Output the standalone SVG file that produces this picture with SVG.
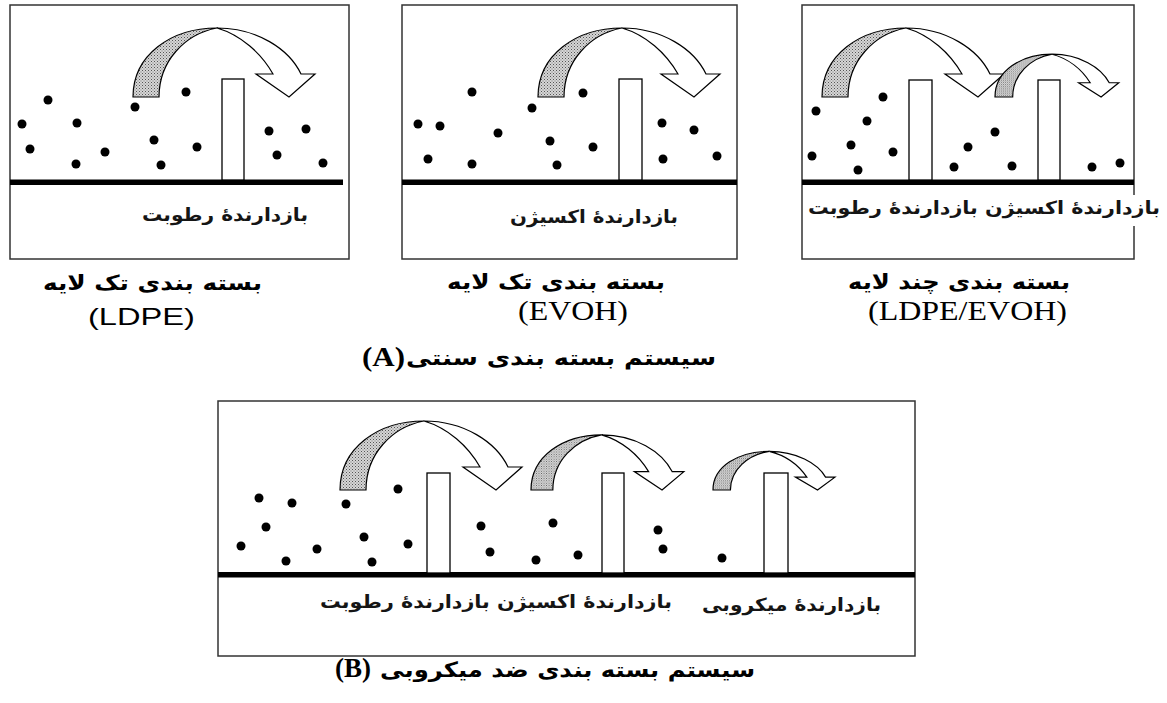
<svg xmlns="http://www.w3.org/2000/svg" xmlns:xlink="http://www.w3.org/1999/xlink" width="1167" height="703" viewBox="0 0 1167 703">
<style>
.box{fill:#fff;stroke:#333;stroke-width:1.5}
.bar{fill:#000}
.pillar{fill:#fff;stroke:#000;stroke-width:1.3}
.dot{fill:#000}
.shade{fill:url(#stipple);stroke:#000;stroke-width:1.2}
.white{fill:#fff;stroke:#000;stroke-width:1.2}
.lbl{font-family:"DejaVu Sans",sans-serif;font-size:18px;fill:#151515;font-weight:bold}
.cap{font-family:"DejaVu Sans",sans-serif;font-size:21px;fill:#000;font-weight:bold}
.lat{font-family:"Liberation Serif",serif;font-size:27px;fill:#000}
.latS{font-family:"Liberation Sans",sans-serif;font-size:24px;fill:#000}
</style>
<defs>
<pattern id="stipple" width="3" height="3" patternUnits="userSpaceOnUse">
<rect width="3" height="3" fill="#d6d6d6"/>
<rect x="0" y="0" width="1" height="1" fill="#555"/>
<rect x="1.5" y="1.5" width="1" height="1" fill="#777"/>
</pattern>
<g id="arrow">
<path class="shade" vector-effect="non-scaling-stroke" d="M0,0 C0,-42 38,-69 84,-69 C52,-63 26,-36 26,0 Z"/>
<path class="white" vector-effect="non-scaling-stroke" d="M84,-69 C124,-69 156,-48 168,-23 L182,-23 L156,0 L123,-23 L140,-23 C128,-44 108,-62 84,-69 Z"/>
</g>
</defs>
<rect width="1167" height="703" fill="#fff"/>

<g id="panel1">
<rect class="box" x="10" y="5" width="339" height="254"/>
<rect class="bar" x="10" y="179.5" width="333" height="5.5"/>
<rect class="pillar" x="222" y="79" width="22" height="101"/>
<use xlink:href="#arrow" transform="translate(133,97)"/>
<g class="dot">
<circle cx="48" cy="100" r="4.5"/><circle cx="22" cy="124" r="4.5"/><circle cx="77" cy="123" r="4.5"/>
<circle cx="30" cy="149" r="4.5"/><circle cx="105" cy="152" r="4.5"/><circle cx="76" cy="164" r="4.5"/>
<circle cx="135" cy="107" r="4.5"/><circle cx="186" cy="92" r="4.5"/><circle cx="154" cy="140" r="4.5"/>
<circle cx="197" cy="147" r="4.5"/><circle cx="161" cy="165" r="4.5"/><circle cx="269" cy="131" r="4.5"/>
<circle cx="306" cy="129" r="4.5"/><circle cx="277" cy="155" r="4.5"/><circle cx="323" cy="163" r="4.5"/>
</g>
<text class="lbl" x="308" y="221" text-anchor="end" textLength="166" lengthAdjust="spacingAndGlyphs">بازدارندۀ رطوبت</text>
</g>

<g id="panel2">
<rect class="box" x="402" y="5" width="335" height="254"/>
<rect class="bar" x="402" y="179.5" width="335" height="5.5"/>
<rect class="pillar" x="619" y="79" width="23" height="101"/>
<use xlink:href="#arrow" transform="translate(538,97)"/>
<g class="dot">
<circle cx="472" cy="92" r="4.5"/><circle cx="532" cy="108" r="4.5"/><circle cx="583" cy="93" r="4.5"/>
<circle cx="418" cy="124" r="4.5"/><circle cx="440" cy="126" r="4.5"/><circle cx="498" cy="133" r="4.5"/>
<circle cx="550" cy="141" r="4.5"/><circle cx="593" cy="147" r="4.5"/><circle cx="428" cy="159" r="4.5"/>
<circle cx="472" cy="164" r="4.5"/><circle cx="557" cy="165" r="4.5"/><circle cx="662" cy="123" r="4.5"/>
<circle cx="694" cy="130" r="4.5"/><circle cx="663" cy="159" r="4.5"/><circle cx="717" cy="156" r="4.5"/>
</g>
<text class="lbl" x="678" y="223" text-anchor="end" textLength="168" lengthAdjust="spacingAndGlyphs">بازدارندۀ اکسیژن</text>
</g>

<g id="panel3">
<rect class="box" x="802" y="5" width="332" height="254"/>
<rect class="bar" x="802" y="179.5" width="332" height="5.5"/>
<rect class="pillar" x="909" y="80" width="23" height="100"/>
<rect class="pillar" x="1038" y="80" width="22" height="100"/>
<use xlink:href="#arrow" transform="translate(822,97)"/>
<use xlink:href="#arrow" transform="translate(995,97) scale(0.68,0.62)"/>
<g class="dot">
<circle cx="883" cy="97" r="4.5"/><circle cx="816" cy="111" r="4.5"/><circle cx="867" cy="121" r="4.5"/>
<circle cx="851" cy="145" r="4.5"/><circle cx="812" cy="156" r="4.5"/><circle cx="893" cy="152" r="4.5"/>
<circle cx="858" cy="170" r="4.5"/><circle cx="995" cy="132" r="4.5"/><circle cx="968" cy="147" r="4.5"/>
<circle cx="954" cy="167" r="4.5"/><circle cx="1012" cy="166" r="4.5"/><circle cx="1092" cy="167" r="4.5"/>
<circle cx="1120" cy="163" r="4.5"/>
</g>
<rect x="1100" y="195" width="62" height="31" fill="#fff"/>
<text class="lbl" x="1160" y="214" text-anchor="end" textLength="352" lengthAdjust="spacingAndGlyphs">بازدارندۀ اکسیژن  بازدارندۀ رطوبت</text>
</g>

<g id="captionsA">
<text class="cap" x="262" y="290" text-anchor="end" textLength="219" lengthAdjust="spacingAndGlyphs">بسته بندی تک لایه</text>
<text class="latS" x="88" y="325" textLength="107" lengthAdjust="spacingAndGlyphs">(LDPE)</text>
<text class="cap" x="665" y="289" text-anchor="end" textLength="218" lengthAdjust="spacingAndGlyphs">بسته بندی تک لایه</text>
<text class="lat" x="518" y="320" textLength="110" lengthAdjust="spacingAndGlyphs">(EVOH)</text>
<text class="cap" x="1070" y="289" text-anchor="end" textLength="222" lengthAdjust="spacingAndGlyphs">بسته بندی چند لایه</text>
<text class="lat" x="868" y="320" textLength="199" lengthAdjust="spacingAndGlyphs">(LDPE/EVOH)</text>
<text class="cap" x="716" y="365" text-anchor="end" font-size="23" textLength="310" lengthAdjust="spacingAndGlyphs">سیستم بسته بندی سنتی</text>
<text class="lat" x="362" y="366" font-weight="bold" font-size="24" textLength="43" lengthAdjust="spacingAndGlyphs">(A)</text>
</g>

<g id="panelB">
<rect class="box" x="218" y="401" width="697" height="255"/>
<rect class="bar" x="218" y="572" width="697" height="5.5"/>
<rect class="pillar" x="427" y="473" width="23" height="100"/>
<rect class="pillar" x="602" y="473" width="22" height="100"/>
<rect class="pillar" x="764" y="473" width="24" height="100"/>
<use xlink:href="#arrow" transform="translate(340,490)"/>
<use xlink:href="#arrow" transform="translate(531,490) scale(0.84,0.8)"/>
<use xlink:href="#arrow" transform="translate(713,490) scale(0.67,0.56)"/>
<g class="dot">
<circle cx="259" cy="498" r="4.5"/><circle cx="292" cy="503" r="4.5"/><circle cx="346" cy="504" r="4.5"/>
<circle cx="398" cy="489" r="4.5"/><circle cx="266" cy="527" r="4.5"/><circle cx="364" cy="537" r="4.5"/>
<circle cx="241" cy="546" r="4.5"/><circle cx="317" cy="549" r="4.5"/><circle cx="408" cy="544" r="4.5"/>
<circle cx="286" cy="561" r="4.5"/><circle cx="372" cy="562" r="4.5"/><circle cx="481" cy="526" r="4.5"/>
<circle cx="553" cy="523" r="4.5"/><circle cx="490" cy="552" r="4.5"/><circle cx="536" cy="560" r="4.5"/>
<circle cx="578" cy="555" r="4.5"/><circle cx="658" cy="530" r="4.5"/><circle cx="663" cy="549" r="4.5"/>
<circle cx="722" cy="558" r="4.5"/>
</g>
<text class="lbl" x="672" y="608" text-anchor="end" textLength="352" lengthAdjust="spacingAndGlyphs">بازدارندۀ اکسیژن  بازدارندۀ رطوبت</text>
<text class="lbl" x="881" y="611" text-anchor="end" textLength="179" lengthAdjust="spacingAndGlyphs">بازدارندۀ میکروبی</text>
</g>

<g id="captionB">
<text class="cap" x="755" y="677" text-anchor="end" font-size="23" textLength="375" lengthAdjust="spacingAndGlyphs">سیستم بسته بندی ضد میکروبی</text>
<text class="lat" x="335" y="677" font-weight="bold" font-size="23" textLength="36" lengthAdjust="spacingAndGlyphs">(B)</text>
</g>
</svg>
